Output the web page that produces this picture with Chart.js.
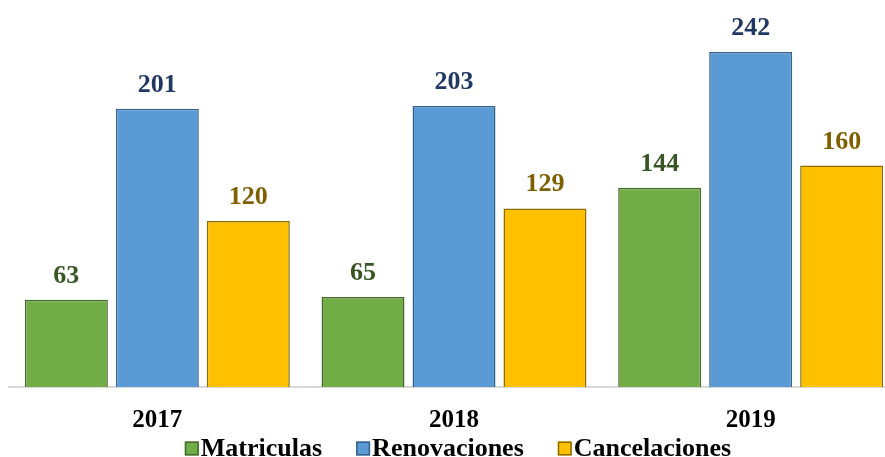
<!DOCTYPE html>
<html>
<head>
<meta charset="utf-8">
<script src="https://cdn.jsdelivr.net/npm/chart.js@4/dist/chart.umd.min.js"></script>
<style>
  html, body { margin: 0; padding: 0; background: #fff; overflow: hidden; }
  #wrap { position: relative; width: 900px; height: 457px; }
</style>
</head>
<body>
<div id="wrap"><canvas id="chart"></canvas></div>
<script>
  const years = ['2017', '2018', '2019'];
  const matriculas = [63, 65, 144];
  const renovaciones = [201, 203, 242];
  const cancelaciones = [120, 129, 160];
  const seriesNames = ['Matriculas', 'Renovaciones', 'Cancelaciones'];

  const fillColors = ['#70ad47', '#5b9bd5', '#ffc000'];
  const borderColors = ['#456b2c', '#35618c', '#8c6c00'];
  const labelColors = ['#375623', '#1f3864', '#7f6000'];
  const fontFamily = "'Liberation Serif', 'Times New Roman', serif";

  // value labels above each bar
  const valueLabels = {
    id: 'valueLabels',
    afterDatasetsDraw(chart) {
      const ctx = chart.ctx;
      ctx.save();
      ctx.font = 'bold 26px ' + fontFamily;
      ctx.textAlign = 'center';
      ctx.textBaseline = 'alphabetic';
      chart.data.datasets.forEach((ds, i) => {
        const meta = chart.getDatasetMeta(i);
        ctx.fillStyle = labelColors[i];
        meta.data.forEach((bar, j) => {
          ctx.fillText(String(ds.data[j]), bar.x, bar.y - 17);
        });
      });
      ctx.restore();
    },
  };

  // legend drawn close to the box, like the original
  const bottomLegend = {
    id: 'bottomLegend',
    afterDraw(chart) {
      const ctx = chart.ctx;
      ctx.save();
      ctx.font = 'bold 26px ' + fontFamily;
      ctx.textBaseline = 'middle';
      ctx.textAlign = 'left';
      const box = 14, gap = 2, spacing = 34;
      const widths = chart.data.datasets.map(ds => box + gap + ctx.measureText(ds.label).width);
      const total = widths.reduce((a, b) => a + b, 0) + spacing * (widths.length - 1);
      let x = chart.width / 2 + 8 - total / 2;
      const y = 448.5;
      chart.data.datasets.forEach((ds, i) => {
        ctx.fillStyle = ds.backgroundColor;
        ctx.fillRect(x, y - box / 2, box, box);
        ctx.strokeStyle = ds.borderColor;
        ctx.lineWidth = 1.5;
        ctx.strokeRect(x + 0.75, y - box / 2 + 0.75, box - 1.5, box - 1.5);
        ctx.fillStyle = '#000';
        ctx.fillText(ds.label, x + box + gap, y + 1);
        x += widths[i] + spacing;
      });
      ctx.restore();
    },
  };

  const seriesValues = [matriculas, renovaciones, cancelaciones];

  new Chart(document.getElementById('chart'), {
    type: 'bar',
    data: {
      labels: years,
      datasets: seriesValues.map((vals, i) => ({
        label: seriesNames[i],
        data: vals,
        backgroundColor: fillColors[i],
        borderColor: borderColors[i],
        borderWidth: 1.5,
        categoryPercentage: 0.92,
        barPercentage: 0.912,
      })),
    },
    options: {
      responsive: true,
      maintainAspectRatio: false,
      animation: false,
      layout: { padding: { left: 9, right: 1, top: 5, bottom: 2 } },
      plugins: {
        legend: { display: false },
        tooltip: { enabled: false },
      },
      scales: {
        x: {
          grid: { display: false, drawTicks: false },
          border: { display: true, color: '#d9d9d9', width: 2 },
          ticks: {
            color: '#000',
            padding: 19,
            font: { family: fontFamily, size: 25, weight: 'bold' },
          },
        },
        y: {
          display: false,
          min: 0,
          max: 276,
        },
      },
    },
    plugins: [valueLabels, bottomLegend],
  });
</script>
</body>
</html>
